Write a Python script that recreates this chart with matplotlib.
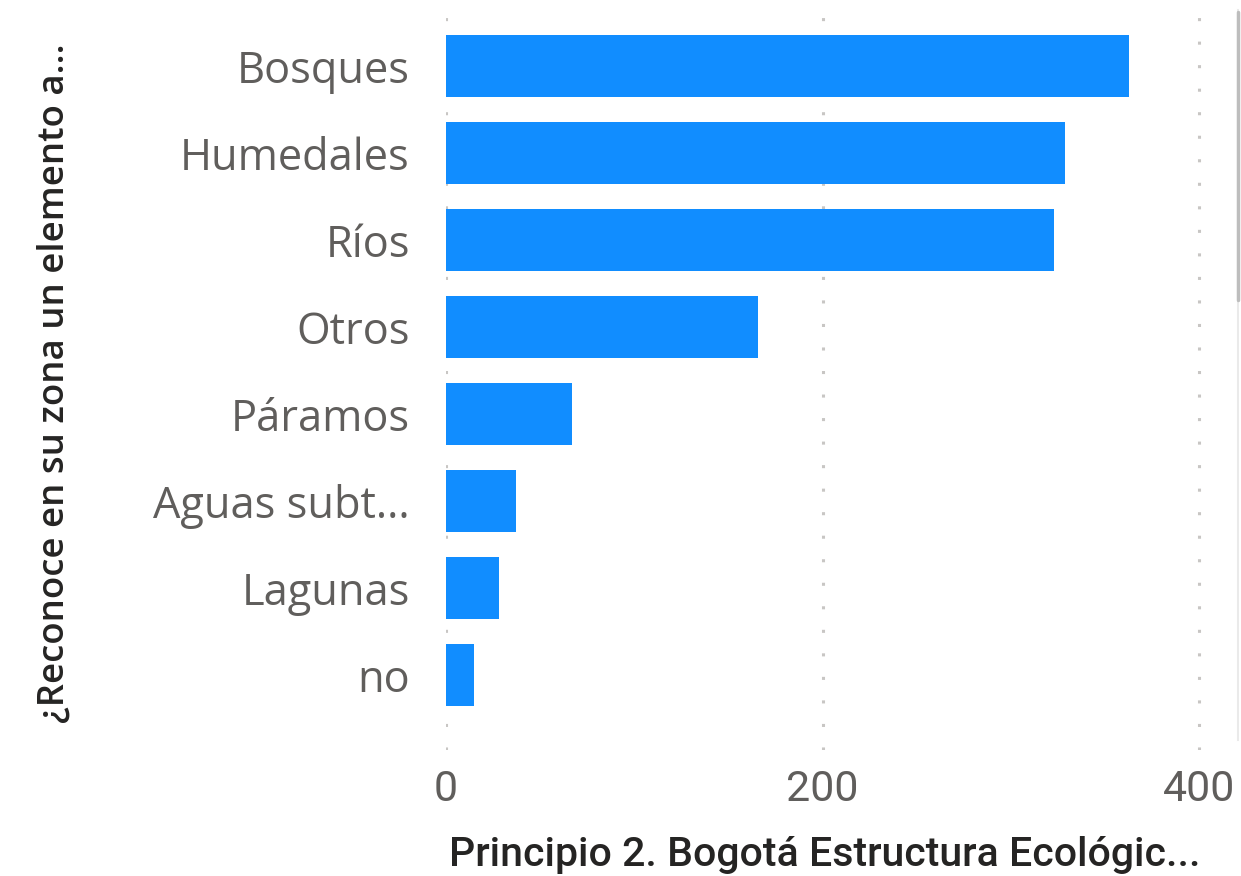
import matplotlib
matplotlib.use("Agg")
import matplotlib.pyplot as plt
from matplotlib.lines import Line2D

# data
categories = ["Bosques", "Humedales", "Ríos", "Otros", "Páramos",
              "Aguas subt...", "Lagunas", "no"]
counts = [363, 329, 323, 166, 67, 37, 28, 15]
x_ticks = [0, 200, 400]
x_title = "Principio 2. Bogotá Estructura Ecológic..."
y_title = "¿Reconoce en su zona un elemento a..."

W, H = 1241, 876
fig = plt.figure(figsize=(W / 100, H / 100), dpi=100)
ax = fig.add_axes([446 / W, (H - 750) / H, (W - 446) / W, 750 / H])

pos = list(range(len(categories)))
ax.barh(pos, counts, height=0.71, color="#118DFF", zorder=3)

ax.set_xlim(0, 400 * (W - 446) / (1199 - 446))
ax.set_ylim((750 - 66) / 87, -66 / 87)

ax.set_yticks(pos)
ax.set_yticklabels(categories, fontsize=31.2, color="#605E5C", family="Open Sans")
ax.set_xticks(x_ticks)
ax.set_xticklabels([str(t) for t in x_ticks], fontsize=31, color="#605E5C",
                   family="Roboto")
ax.tick_params(axis="y", length=0, pad=26)
ax.tick_params(axis="x", length=0, pad=14)

ax.grid(axis="x", color="#C8C6C4", linewidth=2.2, linestyle=(0, (1, 6.7)), zorder=0)
for s in ax.spines.values():
    s.set_visible(False)

fig.text(825 / W, 1 - 855 / H, x_title, fontsize=29.5, color="#252423",
         family="Roboto", weight="medium", ha="center", va="center")
fig.text(55 / W, 1 - 383 / H, y_title, fontsize=26.3, color="#252423",
         family="Open Sans", weight="semibold", rotation=90,
         ha="center", va="center")

# scroll bar at the right edge
fig.add_artist(Line2D([1237.5 / W, 1237.5 / W], [1 - 740 / H, 1 - 10 / H],
                      transform=fig.transFigure, color="#EAEAEA", lw=1.5))
fig.add_artist(Line2D([1237.5 / W, 1237.5 / W], [1 - 300 / H, 1 - 12 / H],
                      transform=fig.transFigure, color="#BDBDBD", lw=2.5,
                      solid_capstyle="round"))

fig.savefig("out.png", dpi=100)
